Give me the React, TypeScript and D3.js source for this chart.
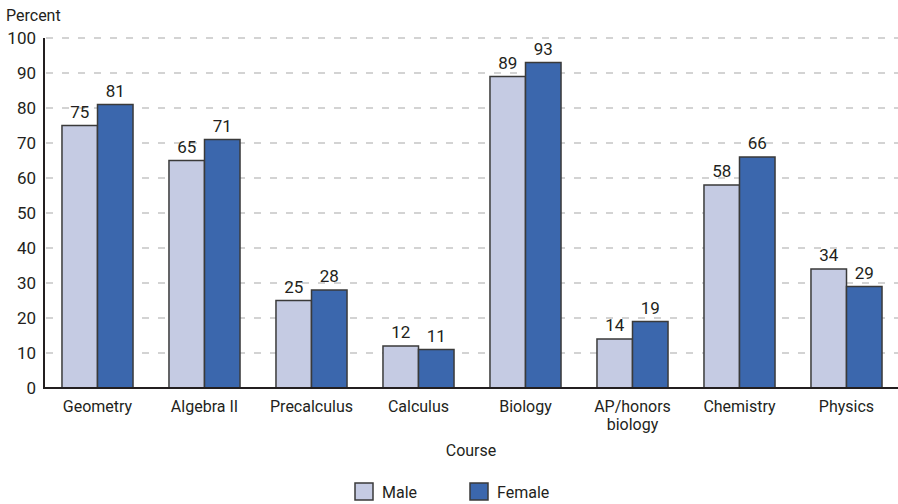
import React, { useRef, useEffect } from 'react'
import * as d3 from 'd3'

// Course-taking by sex, grouped bars
const courses = ['Geometry', 'Algebra II', 'Precalculus', 'Calculus', 'Biology', 'AP/honors\nbiology', 'Chemistry', 'Physics']
const male = [75, 65, 25, 12, 89, 14, 58, 34]
const female = [81, 71, 28, 11, 93, 19, 66, 29]
const seriesNames = ['Male', 'Female']
const yTicks = [0, 10, 20, 30, 40, 50, 60, 70, 80, 90, 100]

const colors = ['#c5cbe3', '#3b67ad']
const FONT = 'Roboto, "Liberation Sans", Arial, sans-serif'

export default function App() {
  const svgRef = useRef<SVGSVGElement>(null)

  useEffect(() => {
    const svg = d3.select(svgRef.current)
    svg.selectAll('*').remove()

    const width = 898
    const height = 504
    const left = 44
    const top = 38
    const bottom = 388

    const x = d3.scaleBand<string>()
      .domain(courses)
      .range([left, 900])
      .paddingInner(0.336)
      .paddingOuter(0.168)
    const x1 = d3.scaleBand<string>().domain(seriesNames).range([0, x.bandwidth()])
    const y = d3.scaleLinear().domain([0, 100]).range([bottom, top])

    const g = svg.append('g').style('font-family', FONT)

    // grid
    g.append('g')
      .selectAll('line')
      .data(yTicks.filter((d) => d > 0))
      .join('line')
      .attr('x1', left + 2)
      .attr('x2', width)
      .attr('y1', (d) => y(d))
      .attr('y2', (d) => y(d))
      .attr('stroke', '#a8a8a8')
      .attr('stroke-width', 1.2)
      .attr('stroke-dasharray', '7,9')

    // y labels
    g.append('g')
      .selectAll('text')
      .data(yTicks)
      .join('text')
      .attr('x', 36)
      .attr('y', (d) => y(d) + 6)
      .attr('text-anchor', 'end')
      .attr('fill', '#231f20')
      .style('font-size', '17px')
      .text((d) => d)

    g.append('text')
      .attr('x', 6)
      .attr('y', 21)
      .attr('fill', '#231f20')
      .style('font-size', '16px')
      .text('Percent')

    // bars
    const groups = g.append('g')
      .selectAll('g')
      .data(courses)
      .join('g')
      .attr('transform', (d) => `translate(${x(d)},0)`)

    groups.each(function (c, i) {
      const vals = [male[i], female[i]]
      const gg = d3.select(this)
      vals.forEach((v, j) => {
        const bx = x1(seriesNames[j])!
        gg.append('rect')
          .attr('x', bx)
          .attr('y', y(v))
          .attr('width', x1.bandwidth())
          .attr('height', bottom - y(v))
          .attr('fill', colors[j])
          .attr('stroke', '#3a3a3a')
          .attr('stroke-width', 1.5)
        gg.append('text')
          .attr('x', bx + x1.bandwidth() / 2)
          .attr('y', y(v) - 8)
          .attr('text-anchor', 'middle')
          .attr('fill', '#231f20')
          .style('font-size', '17px')
          .text(v)
      })
      const lines = c.split('\n')
      const t = gg.append('text')
        .attr('x', x.bandwidth() / 2)
        .attr('y', 412)
        .attr('text-anchor', 'middle')
        .attr('fill', '#231f20')
        .style('font-size', '16px')
      lines.forEach((l, k) => {
        t.append('tspan').attr('x', x.bandwidth() / 2).attr('dy', k === 0 ? 0 : 18).text(l)
      })
    })

    // axes
    g.append('line')
      .attr('x1', left).attr('x2', left)
      .attr('y1', top).attr('y2', bottom + 1)
      .attr('stroke', '#231f20').attr('stroke-width', 2)
    g.append('line')
      .attr('x1', left - 1).attr('x2', width)
      .attr('y1', bottom).attr('y2', bottom)
      .attr('stroke', '#231f20').attr('stroke-width', 2)

    g.append('text')
      .attr('x', 471)
      .attr('y', 456)
      .attr('text-anchor', 'middle')
      .attr('fill', '#231f20')
      .style('font-size', '16px')
      .text('Course')

    // legend
    const legendX = [355, 470]
    seriesNames.forEach((s, j) => {
      g.append('rect')
        .attr('x', legendX[j]).attr('y', 483)
        .attr('width', 18).attr('height', 17)
        .attr('fill', colors[j])
        .attr('stroke', '#3a3a3a').attr('stroke-width', 1.5)
      g.append('text')
        .attr('x', legendX[j] + 27).attr('y', 498)
        .attr('fill', '#231f20')
        .style('font-size', '16px')
        .text(s)
    })
  }, [])

  return (
    <svg
      ref={svgRef}
      width={898}
      height={504}
      viewBox="0 0 898 504"
      style={{ position: 'absolute', left: 0, top: 0, background: '#fff' }}
    />
  )
}
